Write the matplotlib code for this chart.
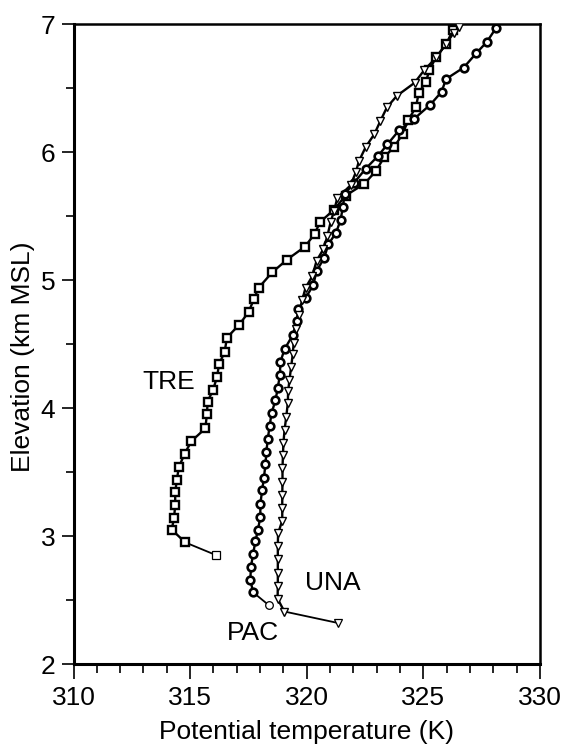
import matplotlib
matplotlib.use("Agg")
import matplotlib.pyplot as plt
from matplotlib.ticker import MultipleLocator

plt.rcParams['font.family'] = ['Liberation Sans', 'DejaVu Sans']

# soundings, listed from the surface point upward
tre_theta = [316.12, 314.79, 314.21, 314.31, 314.36, 314.36, 314.43, 314.52, 314.76,
             315.05, 315.65, 315.72, 315.75, 315.98, 316.15, 316.24, 316.48, 316.58,
             317.10, 317.51, 317.73, 317.94, 318.52, 319.16, 319.92, 320.34, 320.56,
             321.17, 321.67, 322.46, 322.96, 323.32, 323.75, 324.11, 324.35, 324.68,
             324.80, 325.11, 325.26, 325.54, 325.97, 326.26]
tre_z = [2.85, 2.95, 3.05, 3.14, 3.24, 3.34, 3.44, 3.54, 3.64, 3.74, 3.84, 3.95,
         4.05, 4.14, 4.24, 4.34, 4.44, 4.55, 4.65, 4.75, 4.85, 4.94, 5.06, 5.16,
         5.26, 5.36, 5.45, 5.55, 5.66, 5.75, 5.85, 5.96, 6.04, 6.14, 6.25, 6.35,
         6.46, 6.55, 6.64, 6.74, 6.84, 6.95]

pac_theta = [318.37, 317.70, 317.58, 317.61, 317.70, 317.80, 317.91, 318.01, 318.01,
             318.09, 318.16, 318.23, 318.27, 318.33, 318.41, 318.49, 318.66, 318.76,
             318.85, 318.87, 319.05, 319.40, 319.57, 319.63, 319.95, 320.28, 320.42,
             320.74, 320.93, 321.26, 321.45, 321.55, 321.62, 322.03, 322.53, 323.06,
             323.46, 323.96, 324.61, 325.30, 325.78, 325.97, 326.73, 327.26, 327.72,
             328.12]
pac_z = [2.46, 2.56, 2.66, 2.76, 2.86, 2.96, 3.05, 3.15, 3.25, 3.36, 3.45, 3.56,
         3.66, 3.76, 3.86, 3.96, 4.06, 4.16, 4.26, 4.36, 4.46, 4.57, 4.68, 4.77,
         4.86, 4.96, 5.07, 5.17, 5.28, 5.37, 5.47, 5.57, 5.67, 5.76, 5.87, 5.97,
         6.06, 6.17, 6.26, 6.37, 6.47, 6.57, 6.66, 6.77, 6.86, 6.97]

una_theta = [321.35, 319.04, 318.75, 318.76, 318.76, 318.76, 318.76, 318.77, 318.95,
             318.95, 318.95, 318.96, 318.96, 318.98, 319.00, 319.05, 319.12, 319.19,
             319.20, 319.26, 319.33, 319.40, 319.44, 319.52, 319.66, 319.80, 319.95,
             320.24, 320.42, 320.71, 320.88, 321.02, 321.17, 321.31, 321.88, 322.10,
             322.24, 322.53, 322.90, 323.15, 323.44, 323.87, 324.62, 325.04, 325.56,
             325.95, 326.30, 326.54]
una_z = [2.32, 2.41, 2.51, 2.61, 2.71, 2.82, 2.92, 3.02, 3.12, 3.22, 3.32, 3.42,
         3.53, 3.63, 3.73, 3.83, 3.93, 4.04, 4.13, 4.22, 4.32, 4.42, 4.51, 4.62,
         4.73, 4.84, 4.94, 5.03, 5.15, 5.24, 5.34, 5.45, 5.54, 5.64, 5.74, 5.84,
         5.93, 6.04, 6.14, 6.24, 6.35, 6.44, 6.54, 6.64, 6.74, 6.84, 6.93, 6.98]

labels = {"TRE": (314.1, 4.20), "UNA": (321.1, 2.63), "PAC": (317.7, 2.24)}

fig = plt.figure(figsize=(5.64, 7.45), dpi=100)
ax = fig.add_axes([73.5 / 564, 81 / 745, 466.5 / 564, 640 / 745])

series = [
    (tre_theta, tre_z, 's', 6.0, 1.7),
    (pac_theta, pac_z, 'o', 5.5, 1.9),
    (una_theta, una_z, 'v', 5.5, 1.0),
]
for theta, z, mk, ms, mew in series:
    # thinner segment to the surface point, heavier line above it
    ax.plot(theta[:2], z[:2], '-', color='black', lw=1.3, zorder=2)
    ax.plot(theta[1:], z[1:], '-', color='black', lw=1.7, zorder=2)
    ax.plot(theta[1:], z[1:], mk, ms=ms, mfc='white', mec='black', mew=mew, zorder=3)
    ax.plot(theta[:1], z[:1], mk, ms=ms, mfc='white', mec='black', mew=0.9, zorder=3)

for name, (x, y) in labels.items():
    ax.text(x, y, name, ha='center', va='center', fontsize=19)

ax.set_xlim(310, 330)
ax.set_ylim(2, 7)
ax.xaxis.set_major_locator(MultipleLocator(5))
ax.xaxis.set_minor_locator(MultipleLocator(1))
ax.yaxis.set_major_locator(MultipleLocator(1))
ax.yaxis.set_minor_locator(MultipleLocator(0.5))
ax.tick_params(which='both', direction='out', width=1.2, labelsize=19, top=False, right=False)
ax.tick_params(axis='x', which='major', length=11, pad=5)
ax.tick_params(axis='x', which='minor', length=6.5)
ax.tick_params(axis='y', which='major', length=9, pad=4)
ax.tick_params(axis='y', which='minor', length=5.5)
for side in ['left', 'bottom']:
    ax.spines[side].set_linewidth(2.2)
for side in ['top', 'right']:
    ax.spines[side].set_linewidth(1.8)

ax.set_xlabel("Potential temperature (K)", fontsize=19, labelpad=7)
ax.set_ylabel("Elevation (km MSL)", fontsize=19)
ax.yaxis.set_label_coords(-0.083, 0.48)

fig.savefig("out.png", dpi=100)
